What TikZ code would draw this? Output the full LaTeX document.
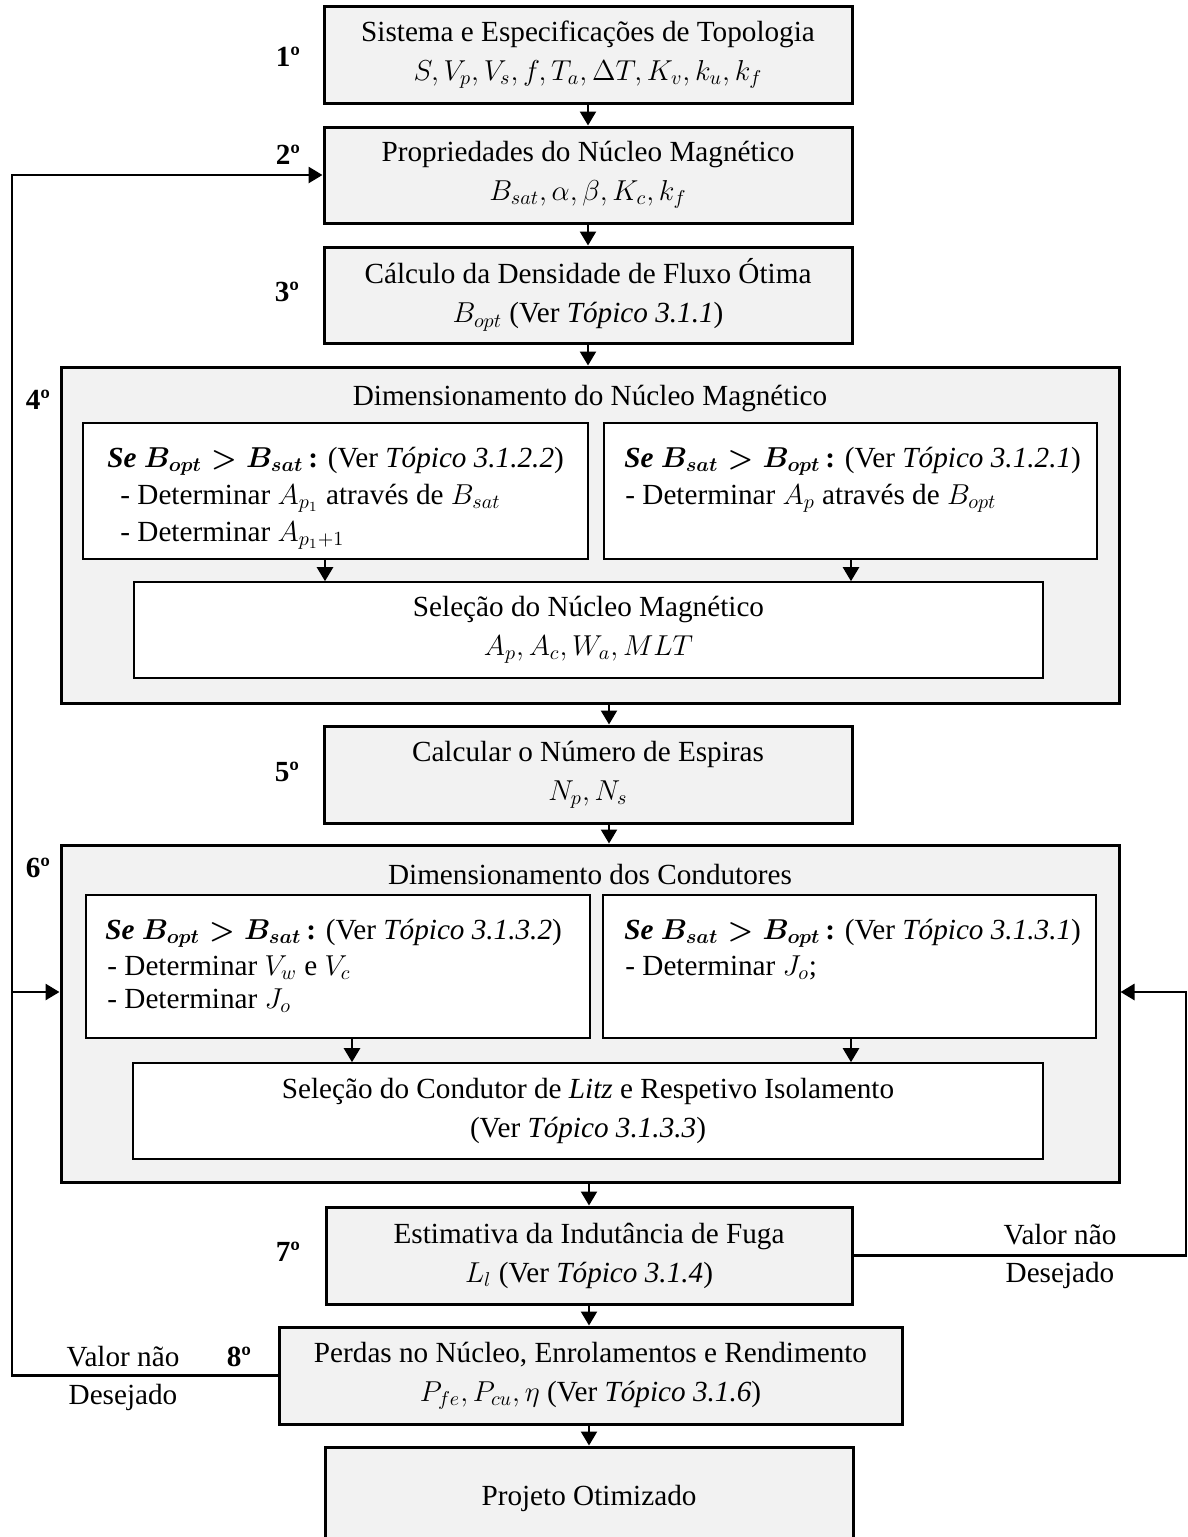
\documentclass[tikz,border=0pt]{standalone}
\usepackage{amsmath}
\usepackage{fontspec}
\setmainfont{Liberation Serif}
\usetikzlibrary{arrows.meta}
\definecolor{boxgray}{HTML}{F2F2F2}
\begin{document}
\begin{tikzpicture}[x=0.5pt,y=-0.5pt,
  font=\fontsize{14.6}{18.5}\selectfont,
  mainbox/.style={draw, line width=1.5pt, fill=boxgray, align=center, inner sep=0pt},
  groupbox/.style={draw, line width=1.5pt, fill=boxgray, inner sep=0pt},
  subbox/.style={draw, line width=0.8pt, fill=white, align=center, inner sep=0pt},
  txt/.style={inner sep=0pt, anchor=base west},
  num/.style={inner sep=0pt, font=\fontsize{14.6}{18.5}\selectfont\bfseries},
  lbl/.style={inner sep=0pt},
  arr/.style={line width=1.2pt, -{Triangle[length=7pt,width=8pt]}},
  fb/.style={line width=1.4pt, -{Triangle[length=7pt,width=8pt]}}
]
\useasboundingbox (0,0) rectangle (1188,1537);
\fill[white] (0,0) rectangle (1188,1537);

% main boxes
\node[mainbox, minimum width=264pt, minimum height=48.5pt] (b1) at (588,54.5)
  {Sistema e Especificações de Topologia\\[1pt] $S,V_p,V_s,f,T_a,\Delta T,K_v,k_u,k_f$};
\node[mainbox, minimum width=264pt, minimum height=48pt] (b2) at (588,175)
  {Propriedades do Núcleo Magnético\\[1pt] $B_{sat},\alpha,\beta,K_c,k_f$};
\node[mainbox, minimum width=264pt, minimum height=48pt] (b3) at (588,295)
  {Cálculo da Densidade de Fluxo Ótima\\[1pt] $B_{opt}$ (Ver \textit{Tópico 3.1.1})};

% group 4
\node[groupbox, minimum width=529pt, minimum height=168pt] (b4) at (590,535) {};
\node[lbl] (t4) at (590,398) {Dimensionamento do Núcleo Magnético};
\node[subbox, minimum width=252.5pt, minimum height=68pt] (b4l) at (335.5,491) {};
\node[subbox, minimum width=246.5pt, minimum height=68pt] (b4r) at (850.5,491) {};
\node[txt] (b4l1) at (107,467) {\textbf{\textit{Se}} {\boldmath$B_{opt}>B_{sat}$}\textbf{\,:} (Ver \textit{Tópico 3.1.2.2})};
\node[txt] (b4l2) at (120,504) {- Determinar $A_{p_1}$ através de $B_{sat}$};
\node[txt] (b4l3) at (120,541) {- Determinar $A_{p_1+1}$};
\node[txt] (b4r1) at (624,467) {\textbf{\textit{Se}} {\boldmath$B_{sat}>B_{opt}$}\textbf{\,:} (Ver \textit{Tópico 3.1.2.1})};
\node[txt] (b4r2) at (625,504) {- Determinar $A_p$ através de $B_{opt}$};
\node[subbox, minimum width=454.5pt, minimum height=48pt] (s4) at (588.5,630)
  {Seleção do Núcleo Magnético\\[1pt] $A_p,A_c,W_a,MLT$};

\node[mainbox, minimum width=264pt, minimum height=48.5pt] (b5) at (588,774.5)
  {Calcular o Número de Espiras\\[1pt] $N_p,N_s$};

% group 6
\node[groupbox, minimum width=529pt, minimum height=168.5pt] (b6) at (590,1013.5) {};
\node[lbl] (t6) at (590,875) {Dimensionamento dos Condutores};
\node[subbox, minimum width=252pt, minimum height=71.5pt] (b6l) at (338,966.5) {};
\node[subbox, minimum width=246.5pt, minimum height=71.5pt] (b6r) at (849.5,966.5) {};
\node[txt] (b6l1) at (105,939) {\textbf{\textit{Se}} {\boldmath$B_{opt}>B_{sat}$}\textbf{\,:} (Ver \textit{Tópico 3.1.3.2})};
\node[txt] (b6l2) at (107,975) {- Determinar $V_w$ e $V_c$};
\node[txt] (b6l3) at (107,1008) {- Determinar $J_o$};
\node[txt] (b6r1) at (624,939) {\textbf{\textit{Se}} {\boldmath$B_{sat}>B_{opt}$}\textbf{\,:} (Ver \textit{Tópico 3.1.3.1})};
\node[txt] (b6r2) at (625,975) {- Determinar $J_o$;};
\node[subbox, minimum width=455pt, minimum height=48pt] (s6) at (588,1111)
  {Seleção do Condutor de \textit{Litz} e Respetivo Isolamento\\[1pt] (Ver \textit{Tópico 3.1.3.3})};

\node[mainbox, minimum width=263pt, minimum height=48.5pt] (b7) at (589,1255.5)
  {Estimativa da Indutância de Fuga\\[1pt] $L_l$ (Ver \textit{Tópico 3.1.4})};
\node[mainbox, minimum width=311.5pt, minimum height=48.5pt] (b8) at (590.5,1375.5)
  {Perdas no Núcleo, Enrolamentos e Rendimento\\[1pt] $P_{fe},P_{cu},\eta$ (Ver \textit{Tópico 3.1.6})};
\node[mainbox, minimum width=264pt, minimum height=51pt] (b9) at (589,1498)
  {Projeto Otimizado};

% step numbers
\node[num] (n1) at (288,57) {1º};
\node[num] (n2) at (288,155) {2º};
\node[num] (n3) at (287,292) {3º};
\node[num] (n4) at (38,400) {4º};
\node[num] (n5) at (287,772) {5º};
\node[num] (n6) at (38,868) {6º};
\node[num] (n7) at (288,1252) {7º};
\node[num] (n8) at (239,1357) {8º};

% feedback labels
\node[lbl] (vr1) at (1060,1235) {Valor não};
\node[lbl] (vr2) at (1060,1275) {Desejado};
\node[lbl] (vl1) at (123,1357) {Valor não};
\node[lbl] (vl2) at (123,1397) {Desejado};

% main arrows
\draw[arr] (b1.south) -- (b2.north);
\draw[arr] (b2.south) -- (b3.north);
\draw[arr] (b3.south) -- (b3.south |- b4.north);
\coordinate (c45) at (609,0);
\draw[arr] (c45 |- b4.south) -- (c45 |- b5.north);
\draw[arr] (c45 |- b5.south) -- (c45 |- b6.north);
\draw[arr] (b7.north |- b6.south) -- (b7.north);
\draw[arr] (b7.south) -- (b7.south |- b8.north);
\draw[arr] (b9.north |- b8.south) -- (b9.north);

% inner arrows
\coordinate (ca) at (325,0);
\coordinate (cb) at (851,0);
\coordinate (cc) at (352,0);
\draw[arr] (ca |- b4l.south) -- (ca |- s4.north);
\draw[arr] (cb |- b4r.south) -- (cb |- s4.north);
\draw[arr] (cc |- b6l.south) -- (cc |- s6.north);
\draw[arr] (cb |- b6r.south) -- (cb |- s6.north);

% feedback loops
\coordinate (lc) at (12,175);
\coordinate (lb) at (12,992);
\coordinate (rc) at (1186,992);
\draw[fb] (b8.west) -| (lc) -- (b2.west);
\draw[fb] (lb) -- (b6.west |- lb);
\draw[fb] (b7.east) -| (rc) -- (b6.east |- rc);
\end{tikzpicture}
\end{document}
